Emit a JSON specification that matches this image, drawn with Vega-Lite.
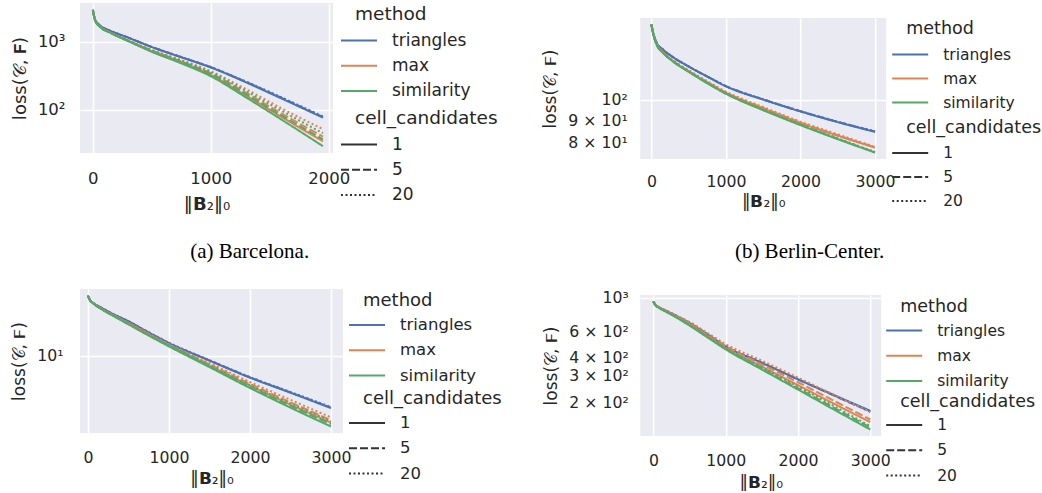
{
  "$schema": "https://vega.github.io/schema/vega-lite/v6.json",
  "background": "white",
  "padding": {"left": 10, "top": 3, "right": 0, "bottom": 0},
  "config": {
    "font": "DejaVu Sans",
    "view": {"fill": "#EAEAF2", "stroke": null},
    "axis": {"domain": false, "ticks": false, "grid": true, "gridColor": "#FFFFFF", "gridWidth": 1.6, "labelFont": "DejaVu Sans", "labelFontSize": 15.7, "labelColor": "#262626", "titleFont": "DejaVu Sans", "titleFontSize": 17, "titleFontWeight": "normal", "titleColor": "#262626", "labelOverlap": false, "labelFlush": false},
    "axisX": {"labelPadding": 17, "titlePadding": 6, "format": "d"},
    "axisY": {"labelPadding": 12, "titlePadding": 8},
    "legend": {"orient": "none", "padding": 0, "titleFont": "DejaVu Sans", "titleFontWeight": "normal", "titleColor": "#262626", "labelFont": "DejaVu Sans", "labelColor": "#262626", "symbolType": "M-2,0H2", "symbolSize": 324, "symbolStrokeWidth": 2, "symbolOffset": -6, "labelOffset": 23},
    "title": {"font": "Liberation Serif", "fontSize": 21, "fontWeight": "normal", "color": "#000000", "orient": "bottom", "anchor": "middle", "frame": "bounds"}
  },
  "datasets": {
    "a": [
      {"n":0,"loss":2951,"method":"triangles","cc":"1"},{"n":20,"loss":2089,"method":"triangles","cc":"1"},{"n":60,"loss":1738,"method":"triangles","cc":"1"},{"n":150,"loss":1445,"method":"triangles","cc":"1"},{"n":300,"loss":1148,"method":"triangles","cc":"1"},{"n":500,"loss":832,"method":"triangles","cc":"1"},{"n":750,"loss":589,"method":"triangles","cc":"1"},{"n":1000,"loss":417,"method":"triangles","cc":"1"},{"n":1300,"loss":251,"method":"triangles","cc":"1"},{"n":1600,"loss":145,"method":"triangles","cc":"1"},{"n":1950,"loss":75.9,"method":"triangles","cc":"1"},
      {"n":0,"loss":2951,"method":"triangles","cc":"5"},{"n":20,"loss":2089,"method":"triangles","cc":"5"},{"n":60,"loss":1738,"method":"triangles","cc":"5"},{"n":150,"loss":1445,"method":"triangles","cc":"5"},{"n":300,"loss":1148,"method":"triangles","cc":"5"},{"n":500,"loss":835,"method":"triangles","cc":"5"},{"n":750,"loss":592,"method":"triangles","cc":"5"},{"n":1000,"loss":420,"method":"triangles","cc":"5"},{"n":1300,"loss":254,"method":"triangles","cc":"5"},{"n":1600,"loss":148,"method":"triangles","cc":"5"},{"n":1950,"loss":77.5,"method":"triangles","cc":"5"},
      {"n":0,"loss":2951,"method":"triangles","cc":"20"},{"n":20,"loss":2089,"method":"triangles","cc":"20"},{"n":60,"loss":1738,"method":"triangles","cc":"20"},{"n":150,"loss":1445,"method":"triangles","cc":"20"},{"n":300,"loss":1148,"method":"triangles","cc":"20"},{"n":500,"loss":838,"method":"triangles","cc":"20"},{"n":750,"loss":596,"method":"triangles","cc":"20"},{"n":1000,"loss":424,"method":"triangles","cc":"20"},{"n":1300,"loss":258,"method":"triangles","cc":"20"},{"n":1600,"loss":151,"method":"triangles","cc":"20"},{"n":1950,"loss":79.0,"method":"triangles","cc":"20"},
      {"n":0,"loss":2951,"method":"max","cc":"1"},{"n":20,"loss":2042,"method":"max","cc":"1"},{"n":60,"loss":1679,"method":"max","cc":"1"},{"n":150,"loss":1365,"method":"max","cc":"1"},{"n":300,"loss":1035,"method":"max","cc":"1"},{"n":500,"loss":724,"method":"max","cc":"1"},{"n":750,"loss":501,"method":"max","cc":"1"},{"n":1000,"loss":324,"method":"max","cc":"1"},{"n":1300,"loss":160,"method":"max","cc":"1"},{"n":1600,"loss":77.5,"method":"max","cc":"1"},{"n":1950,"loss":33.9,"method":"max","cc":"1"},
      {"n":0,"loss":2951,"method":"max","cc":"5"},{"n":20,"loss":2042,"method":"max","cc":"5"},{"n":60,"loss":1679,"method":"max","cc":"5"},{"n":150,"loss":1365,"method":"max","cc":"5"},{"n":300,"loss":1035,"method":"max","cc":"5"},{"n":500,"loss":741,"method":"max","cc":"5"},{"n":750,"loss":513,"method":"max","cc":"5"},{"n":1000,"loss":343,"method":"max","cc":"5"},{"n":1300,"loss":176,"method":"max","cc":"5"},{"n":1600,"loss":87.1,"method":"max","cc":"5"},{"n":1950,"loss":39.8,"method":"max","cc":"5"},
      {"n":0,"loss":2951,"method":"max","cc":"20"},{"n":20,"loss":2042,"method":"max","cc":"20"},{"n":60,"loss":1679,"method":"max","cc":"20"},{"n":150,"loss":1365,"method":"max","cc":"20"},{"n":300,"loss":1047,"method":"max","cc":"20"},{"n":500,"loss":759,"method":"max","cc":"20"},{"n":750,"loss":537,"method":"max","cc":"20"},{"n":1000,"loss":367,"method":"max","cc":"20"},{"n":1300,"loss":199,"method":"max","cc":"20"},{"n":1600,"loss":104,"method":"max","cc":"20"},{"n":1950,"loss":51.3,"method":"max","cc":"20"},
      {"n":0,"loss":2951,"method":"similarity","cc":"1"},{"n":20,"loss":2042,"method":"similarity","cc":"1"},{"n":60,"loss":1660,"method":"similarity","cc":"1"},{"n":150,"loss":1349,"method":"similarity","cc":"1"},{"n":300,"loss":1023,"method":"similarity","cc":"1"},{"n":500,"loss":708,"method":"similarity","cc":"1"},{"n":750,"loss":479,"method":"similarity","cc":"1"},{"n":1000,"loss":309,"method":"similarity","cc":"1"},{"n":1300,"loss":150,"method":"similarity","cc":"1"},{"n":1600,"loss":70.8,"method":"similarity","cc":"1"},{"n":1950,"loss":28.8,"method":"similarity","cc":"1"},
      {"n":0,"loss":2951,"method":"similarity","cc":"5"},{"n":20,"loss":2042,"method":"similarity","cc":"5"},{"n":60,"loss":1660,"method":"similarity","cc":"5"},{"n":150,"loss":1349,"method":"similarity","cc":"5"},{"n":300,"loss":1023,"method":"similarity","cc":"5"},{"n":500,"loss":724,"method":"similarity","cc":"5"},{"n":750,"loss":501,"method":"similarity","cc":"5"},{"n":1000,"loss":331,"method":"similarity","cc":"5"},{"n":1300,"loss":166,"method":"similarity","cc":"5"},{"n":1600,"loss":81.3,"method":"similarity","cc":"5"},{"n":1950,"loss":36.3,"method":"similarity","cc":"5"},
      {"n":0,"loss":2951,"method":"similarity","cc":"20"},{"n":20,"loss":2042,"method":"similarity","cc":"20"},{"n":60,"loss":1660,"method":"similarity","cc":"20"},{"n":150,"loss":1349,"method":"similarity","cc":"20"},{"n":300,"loss":1023,"method":"similarity","cc":"20"},{"n":500,"loss":741,"method":"similarity","cc":"20"},{"n":750,"loss":525,"method":"similarity","cc":"20"},{"n":1000,"loss":355,"method":"similarity","cc":"20"},{"n":1300,"loss":186,"method":"similarity","cc":"20"},{"n":1600,"loss":95.5,"method":"similarity","cc":"20"},{"n":1950,"loss":44.7,"method":"similarity","cc":"20"}
    ],
    "b": [
      {"n":0,"loss":148.3,"method":"triangles","cc":"1"},{"n":25,"loss":141.9,"method":"triangles","cc":"1"},{"n":75,"loss":134.3,"method":"triangles","cc":"1"},{"n":150,"loss":130.3,"method":"triangles","cc":"1"},{"n":300,"loss":124.7,"method":"triangles","cc":"1"},{"n":500,"loss":119.1,"method":"triangles","cc":"1"},{"n":750,"loss":113.0,"method":"triangles","cc":"1"},{"n":1000,"loss":107.4,"method":"triangles","cc":"1"},{"n":1500,"loss":100.2,"method":"triangles","cc":"1"},{"n":2000,"loss":94.2,"method":"triangles","cc":"1"},{"n":2500,"loss":89.1,"method":"triangles","cc":"1"},{"n":3000,"loss":84.7,"method":"triangles","cc":"1"},
      {"n":0,"loss":148.3,"method":"triangles","cc":"5"},{"n":25,"loss":141.9,"method":"triangles","cc":"5"},{"n":75,"loss":134.3,"method":"triangles","cc":"5"},{"n":150,"loss":130.3,"method":"triangles","cc":"5"},{"n":300,"loss":124.7,"method":"triangles","cc":"5"},{"n":500,"loss":119.1,"method":"triangles","cc":"5"},{"n":750,"loss":113.0,"method":"triangles","cc":"5"},{"n":1000,"loss":107.5,"method":"triangles","cc":"5"},{"n":1500,"loss":100.3,"method":"triangles","cc":"5"},{"n":2000,"loss":94.3,"method":"triangles","cc":"5"},{"n":2500,"loss":89.2,"method":"triangles","cc":"5"},{"n":3000,"loss":84.8,"method":"triangles","cc":"5"},
      {"n":0,"loss":148.3,"method":"triangles","cc":"20"},{"n":25,"loss":141.9,"method":"triangles","cc":"20"},{"n":75,"loss":134.3,"method":"triangles","cc":"20"},{"n":150,"loss":130.3,"method":"triangles","cc":"20"},{"n":300,"loss":124.7,"method":"triangles","cc":"20"},{"n":500,"loss":119.2,"method":"triangles","cc":"20"},{"n":750,"loss":113.1,"method":"triangles","cc":"20"},{"n":1000,"loss":107.6,"method":"triangles","cc":"20"},{"n":1500,"loss":100.4,"method":"triangles","cc":"20"},{"n":2000,"loss":94.4,"method":"triangles","cc":"20"},{"n":2500,"loss":89.3,"method":"triangles","cc":"20"},{"n":3000,"loss":84.9,"method":"triangles","cc":"20"},
      {"n":0,"loss":148.3,"method":"max","cc":"1"},{"n":25,"loss":141.3,"method":"max","cc":"1"},{"n":75,"loss":133.4,"method":"max","cc":"1"},{"n":150,"loss":128.5,"method":"max","cc":"1"},{"n":300,"loss":122.2,"method":"max","cc":"1"},{"n":500,"loss":116.1,"method":"max","cc":"1"},{"n":750,"loss":109.6,"method":"max","cc":"1"},{"n":1000,"loss":103.8,"method":"max","cc":"1"},{"n":1500,"loss":95.7,"method":"max","cc":"1"},{"n":2000,"loss":88.7,"method":"max","cc":"1"},{"n":2500,"loss":83.0,"method":"max","cc":"1"},{"n":3000,"loss":78.0,"method":"max","cc":"1"},
      {"n":0,"loss":148.3,"method":"max","cc":"5"},{"n":25,"loss":141.3,"method":"max","cc":"5"},{"n":75,"loss":133.4,"method":"max","cc":"5"},{"n":150,"loss":128.5,"method":"max","cc":"5"},{"n":300,"loss":122.3,"method":"max","cc":"5"},{"n":500,"loss":116.3,"method":"max","cc":"5"},{"n":750,"loss":109.8,"method":"max","cc":"5"},{"n":1000,"loss":104.0,"method":"max","cc":"5"},{"n":1500,"loss":95.9,"method":"max","cc":"5"},{"n":2000,"loss":88.9,"method":"max","cc":"5"},{"n":2500,"loss":83.2,"method":"max","cc":"5"},{"n":3000,"loss":78.1,"method":"max","cc":"5"},
      {"n":0,"loss":148.3,"method":"max","cc":"20"},{"n":25,"loss":141.4,"method":"max","cc":"20"},{"n":75,"loss":133.6,"method":"max","cc":"20"},{"n":150,"loss":128.8,"method":"max","cc":"20"},{"n":300,"loss":122.7,"method":"max","cc":"20"},{"n":500,"loss":116.9,"method":"max","cc":"20"},{"n":750,"loss":110.3,"method":"max","cc":"20"},{"n":1000,"loss":104.5,"method":"max","cc":"20"},{"n":1500,"loss":96.4,"method":"max","cc":"20"},{"n":2000,"loss":89.3,"method":"max","cc":"20"},{"n":2500,"loss":83.6,"method":"max","cc":"20"},{"n":3000,"loss":78.3,"method":"max","cc":"20"},
      {"n":0,"loss":148.3,"method":"similarity","cc":"1"},{"n":25,"loss":141.3,"method":"similarity","cc":"1"},{"n":75,"loss":133.0,"method":"similarity","cc":"1"},{"n":150,"loss":128.2,"method":"similarity","cc":"1"},{"n":300,"loss":121.9,"method":"similarity","cc":"1"},{"n":500,"loss":115.9,"method":"similarity","cc":"1"},{"n":750,"loss":109.1,"method":"similarity","cc":"1"},{"n":1000,"loss":103.3,"method":"similarity","cc":"1"},{"n":1500,"loss":94.8,"method":"similarity","cc":"1"},{"n":2000,"loss":87.7,"method":"similarity","cc":"1"},{"n":2500,"loss":81.5,"method":"similarity","cc":"1"},{"n":3000,"loss":76.0,"method":"similarity","cc":"1"},
      {"n":0,"loss":148.3,"method":"similarity","cc":"5"},{"n":25,"loss":141.3,"method":"similarity","cc":"5"},{"n":75,"loss":133.0,"method":"similarity","cc":"5"},{"n":150,"loss":128.2,"method":"similarity","cc":"5"},{"n":300,"loss":121.9,"method":"similarity","cc":"5"},{"n":500,"loss":115.9,"method":"similarity","cc":"5"},{"n":750,"loss":109.2,"method":"similarity","cc":"5"},{"n":1000,"loss":103.4,"method":"similarity","cc":"5"},{"n":1500,"loss":95.0,"method":"similarity","cc":"5"},{"n":2000,"loss":87.9,"method":"similarity","cc":"5"},{"n":2500,"loss":81.7,"method":"similarity","cc":"5"},{"n":3000,"loss":76.1,"method":"similarity","cc":"5"},
      {"n":0,"loss":148.3,"method":"similarity","cc":"20"},{"n":25,"loss":141.3,"method":"similarity","cc":"20"},{"n":75,"loss":133.1,"method":"similarity","cc":"20"},{"n":150,"loss":128.3,"method":"similarity","cc":"20"},{"n":300,"loss":122.0,"method":"similarity","cc":"20"},{"n":500,"loss":116.0,"method":"similarity","cc":"20"},{"n":750,"loss":109.3,"method":"similarity","cc":"20"},{"n":1000,"loss":103.6,"method":"similarity","cc":"20"},{"n":1500,"loss":95.2,"method":"similarity","cc":"20"},{"n":2000,"loss":88.1,"method":"similarity","cc":"20"},{"n":2500,"loss":81.9,"method":"similarity","cc":"20"},{"n":3000,"loss":76.3,"method":"similarity","cc":"20"}
    ],
    "c": [
      {"n":0,"loss":32.1,"method":"triangles","cc":"1"},{"n":25,"loss":29.5,"method":"triangles","cc":"1"},{"n":75,"loss":27.5,"method":"triangles","cc":"1"},{"n":150,"loss":25.7,"method":"triangles","cc":"1"},{"n":300,"loss":22.6,"method":"triangles","cc":"1"},{"n":500,"loss":19.5,"method":"triangles","cc":"1"},{"n":750,"loss":15.7,"method":"triangles","cc":"1"},{"n":1000,"loss":12.8,"method":"triangles","cc":"1"},{"n":1500,"loss":9.12,"method":"triangles","cc":"1"},{"n":2000,"loss":6.56,"method":"triangles","cc":"1"},{"n":2500,"loss":4.90,"method":"triangles","cc":"1"},{"n":3000,"loss":3.64,"method":"triangles","cc":"1"},
      {"n":0,"loss":32.1,"method":"triangles","cc":"5"},{"n":25,"loss":29.5,"method":"triangles","cc":"5"},{"n":75,"loss":27.5,"method":"triangles","cc":"5"},{"n":150,"loss":25.7,"method":"triangles","cc":"5"},{"n":300,"loss":22.6,"method":"triangles","cc":"5"},{"n":500,"loss":19.5,"method":"triangles","cc":"5"},{"n":750,"loss":15.7,"method":"triangles","cc":"5"},{"n":1000,"loss":12.8,"method":"triangles","cc":"5"},{"n":1500,"loss":9.15,"method":"triangles","cc":"5"},{"n":2000,"loss":6.60,"method":"triangles","cc":"5"},{"n":2500,"loss":4.93,"method":"triangles","cc":"5"},{"n":3000,"loss":3.67,"method":"triangles","cc":"5"},
      {"n":0,"loss":32.1,"method":"triangles","cc":"20"},{"n":25,"loss":29.5,"method":"triangles","cc":"20"},{"n":75,"loss":27.6,"method":"triangles","cc":"20"},{"n":150,"loss":25.8,"method":"triangles","cc":"20"},{"n":300,"loss":22.7,"method":"triangles","cc":"20"},{"n":500,"loss":19.6,"method":"triangles","cc":"20"},{"n":750,"loss":15.8,"method":"triangles","cc":"20"},{"n":1000,"loss":12.9,"method":"triangles","cc":"20"},{"n":1500,"loss":9.20,"method":"triangles","cc":"20"},{"n":2000,"loss":6.64,"method":"triangles","cc":"20"},{"n":2500,"loss":4.97,"method":"triangles","cc":"20"},{"n":3000,"loss":3.72,"method":"triangles","cc":"20"},
      {"n":0,"loss":32.1,"method":"max","cc":"1"},{"n":25,"loss":29.4,"method":"max","cc":"1"},{"n":75,"loss":27.4,"method":"max","cc":"1"},{"n":150,"loss":25.3,"method":"max","cc":"1"},{"n":300,"loss":22.1,"method":"max","cc":"1"},{"n":500,"loss":18.7,"method":"max","cc":"1"},{"n":750,"loss":15.1,"method":"max","cc":"1"},{"n":1000,"loss":12.3,"method":"max","cc":"1"},{"n":1500,"loss":8.28,"method":"max","cc":"1"},{"n":2000,"loss":5.62,"method":"max","cc":"1"},{"n":2500,"loss":3.89,"method":"max","cc":"1"},{"n":3000,"loss":2.75,"method":"max","cc":"1"},
      {"n":0,"loss":32.1,"method":"max","cc":"5"},{"n":25,"loss":29.4,"method":"max","cc":"5"},{"n":75,"loss":27.4,"method":"max","cc":"5"},{"n":150,"loss":25.3,"method":"max","cc":"5"},{"n":300,"loss":22.2,"method":"max","cc":"5"},{"n":500,"loss":18.8,"method":"max","cc":"5"},{"n":750,"loss":15.2,"method":"max","cc":"5"},{"n":1000,"loss":12.4,"method":"max","cc":"5"},{"n":1500,"loss":8.51,"method":"max","cc":"5"},{"n":2000,"loss":5.82,"method":"max","cc":"5"},{"n":2500,"loss":4.07,"method":"max","cc":"5"},{"n":3000,"loss":2.88,"method":"max","cc":"5"},
      {"n":0,"loss":32.1,"method":"max","cc":"20"},{"n":25,"loss":29.5,"method":"max","cc":"20"},{"n":75,"loss":27.5,"method":"max","cc":"20"},{"n":150,"loss":25.4,"method":"max","cc":"20"},{"n":300,"loss":22.3,"method":"max","cc":"20"},{"n":500,"loss":19.0,"method":"max","cc":"20"},{"n":750,"loss":15.4,"method":"max","cc":"20"},{"n":1000,"loss":12.6,"method":"max","cc":"20"},{"n":1500,"loss":8.71,"method":"max","cc":"20"},{"n":2000,"loss":6.03,"method":"max","cc":"20"},{"n":2500,"loss":4.27,"method":"max","cc":"20"},{"n":3000,"loss":3.04,"method":"max","cc":"20"},
      {"n":0,"loss":32.1,"method":"similarity","cc":"1"},{"n":25,"loss":29.4,"method":"similarity","cc":"1"},{"n":75,"loss":27.2,"method":"similarity","cc":"1"},{"n":150,"loss":25.1,"method":"similarity","cc":"1"},{"n":300,"loss":21.9,"method":"similarity","cc":"1"},{"n":500,"loss":18.4,"method":"similarity","cc":"1"},{"n":750,"loss":14.8,"method":"similarity","cc":"1"},{"n":1000,"loss":12.0,"method":"similarity","cc":"1"},{"n":1500,"loss":8.04,"method":"similarity","cc":"1"},{"n":2000,"loss":5.37,"method":"similarity","cc":"1"},{"n":2500,"loss":3.67,"method":"similarity","cc":"1"},{"n":3000,"loss":2.55,"method":"similarity","cc":"1"},
      {"n":0,"loss":32.1,"method":"similarity","cc":"5"},{"n":25,"loss":29.4,"method":"similarity","cc":"5"},{"n":75,"loss":27.2,"method":"similarity","cc":"5"},{"n":150,"loss":25.1,"method":"similarity","cc":"5"},{"n":300,"loss":21.9,"method":"similarity","cc":"5"},{"n":500,"loss":18.5,"method":"similarity","cc":"5"},{"n":750,"loss":14.9,"method":"similarity","cc":"5"},{"n":1000,"loss":12.2,"method":"similarity","cc":"5"},{"n":1500,"loss":8.17,"method":"similarity","cc":"5"},{"n":2000,"loss":5.52,"method":"similarity","cc":"5"},{"n":2500,"loss":3.80,"method":"similarity","cc":"5"},{"n":3000,"loss":2.67,"method":"similarity","cc":"5"},
      {"n":0,"loss":32.1,"method":"similarity","cc":"20"},{"n":25,"loss":29.4,"method":"similarity","cc":"20"},{"n":75,"loss":27.3,"method":"similarity","cc":"20"},{"n":150,"loss":25.2,"method":"similarity","cc":"20"},{"n":300,"loss":22.0,"method":"similarity","cc":"20"},{"n":500,"loss":18.6,"method":"similarity","cc":"20"},{"n":750,"loss":15.0,"method":"similarity","cc":"20"},{"n":1000,"loss":12.3,"method":"similarity","cc":"20"},{"n":1500,"loss":8.32,"method":"similarity","cc":"20"},{"n":2000,"loss":5.69,"method":"similarity","cc":"20"},{"n":2500,"loss":3.98,"method":"similarity","cc":"20"},{"n":3000,"loss":2.82,"method":"similarity","cc":"20"}
    ],
    "d": [
      {"n":0,"loss":948,"method":"triangles","cc":"1"},{"n":25,"loss":902,"method":"triangles","cc":"1"},{"n":75,"loss":867,"method":"triangles","cc":"1"},{"n":150,"loss":832,"method":"triangles","cc":"1"},{"n":300,"loss":767,"method":"triangles","cc":"1"},{"n":500,"loss":679,"method":"triangles","cc":"1"},{"n":750,"loss":569,"method":"triangles","cc":"1"},{"n":1000,"loss":473,"method":"triangles","cc":"1"},{"n":1500,"loss":367,"method":"triangles","cc":"1"},{"n":2000,"loss":285,"method":"triangles","cc":"1"},{"n":2500,"loss":223,"method":"triangles","cc":"1"},{"n":3000,"loss":175,"method":"triangles","cc":"1"},
      {"n":0,"loss":948,"method":"triangles","cc":"5"},{"n":25,"loss":902,"method":"triangles","cc":"5"},{"n":75,"loss":867,"method":"triangles","cc":"5"},{"n":150,"loss":832,"method":"triangles","cc":"5"},{"n":300,"loss":767,"method":"triangles","cc":"5"},{"n":500,"loss":680,"method":"triangles","cc":"5"},{"n":750,"loss":570,"method":"triangles","cc":"5"},{"n":1000,"loss":474,"method":"triangles","cc":"5"},{"n":1500,"loss":368,"method":"triangles","cc":"5"},{"n":2000,"loss":284,"method":"triangles","cc":"5"},{"n":2500,"loss":221,"method":"triangles","cc":"5"},{"n":3000,"loss":173,"method":"triangles","cc":"5"},
      {"n":0,"loss":948,"method":"triangles","cc":"20"},{"n":25,"loss":902,"method":"triangles","cc":"20"},{"n":75,"loss":868,"method":"triangles","cc":"20"},{"n":150,"loss":833,"method":"triangles","cc":"20"},{"n":300,"loss":769,"method":"triangles","cc":"20"},{"n":500,"loss":682,"method":"triangles","cc":"20"},{"n":750,"loss":573,"method":"triangles","cc":"20"},{"n":1000,"loss":477,"method":"triangles","cc":"20"},{"n":1500,"loss":370,"method":"triangles","cc":"20"},{"n":2000,"loss":286,"method":"triangles","cc":"20"},{"n":2500,"loss":222,"method":"triangles","cc":"20"},{"n":3000,"loss":172,"method":"triangles","cc":"20"},
      {"n":0,"loss":948,"method":"max","cc":"1"},{"n":25,"loss":902,"method":"max","cc":"1"},{"n":75,"loss":865,"method":"max","cc":"1"},{"n":150,"loss":828,"method":"max","cc":"1"},{"n":300,"loss":759,"method":"max","cc":"1"},{"n":500,"loss":668,"method":"max","cc":"1"},{"n":750,"loss":556,"method":"max","cc":"1"},{"n":1000,"loss":462,"method":"max","cc":"1"},{"n":1500,"loss":347,"method":"max","cc":"1"},{"n":2000,"loss":260,"method":"max","cc":"1"},{"n":2500,"loss":195,"method":"max","cc":"1"},{"n":3000,"loss":147,"method":"max","cc":"1"},
      {"n":0,"loss":948,"method":"max","cc":"5"},{"n":25,"loss":902,"method":"max","cc":"5"},{"n":75,"loss":866,"method":"max","cc":"5"},{"n":150,"loss":830,"method":"max","cc":"5"},{"n":300,"loss":762,"method":"max","cc":"5"},{"n":500,"loss":673,"method":"max","cc":"5"},{"n":750,"loss":562,"method":"max","cc":"5"},{"n":1000,"loss":473,"method":"max","cc":"5"},{"n":1500,"loss":359,"method":"max","cc":"5"},{"n":2000,"loss":272,"method":"max","cc":"5"},{"n":2500,"loss":204,"method":"max","cc":"5"},{"n":3000,"loss":153,"method":"max","cc":"5"},
      {"n":0,"loss":948,"method":"max","cc":"20"},{"n":25,"loss":903,"method":"max","cc":"20"},{"n":75,"loss":868,"method":"max","cc":"20"},{"n":150,"loss":834,"method":"max","cc":"20"},{"n":300,"loss":768,"method":"max","cc":"20"},{"n":500,"loss":692,"method":"max","cc":"20"},{"n":750,"loss":582,"method":"max","cc":"20"},{"n":1000,"loss":490,"method":"max","cc":"20"},{"n":1500,"loss":380,"method":"max","cc":"20"},{"n":2000,"loss":292,"method":"max","cc":"20"},{"n":2500,"loss":224,"method":"max","cc":"20"},{"n":3000,"loss":172,"method":"max","cc":"20"},
      {"n":0,"loss":948,"method":"similarity","cc":"1"},{"n":25,"loss":897,"method":"similarity","cc":"1"},{"n":75,"loss":859,"method":"similarity","cc":"1"},{"n":150,"loss":820,"method":"similarity","cc":"1"},{"n":300,"loss":748,"method":"similarity","cc":"1"},{"n":500,"loss":653,"method":"similarity","cc":"1"},{"n":750,"loss":543,"method":"similarity","cc":"1"},{"n":1000,"loss":452,"method":"similarity","cc":"1"},{"n":1500,"loss":331,"method":"similarity","cc":"1"},{"n":2000,"loss":243,"method":"similarity","cc":"1"},{"n":2500,"loss":178,"method":"similarity","cc":"1"},{"n":3000,"loss":131,"method":"similarity","cc":"1"},
      {"n":0,"loss":948,"method":"similarity","cc":"5"},{"n":25,"loss":897,"method":"similarity","cc":"5"},{"n":75,"loss":859,"method":"similarity","cc":"5"},{"n":150,"loss":821,"method":"similarity","cc":"5"},{"n":300,"loss":750,"method":"similarity","cc":"5"},{"n":500,"loss":656,"method":"similarity","cc":"5"},{"n":750,"loss":547,"method":"similarity","cc":"5"},{"n":1000,"loss":457,"method":"similarity","cc":"5"},{"n":1500,"loss":337,"method":"similarity","cc":"5"},{"n":2000,"loss":248,"method":"similarity","cc":"5"},{"n":2500,"loss":183,"method":"similarity","cc":"5"},{"n":3000,"loss":135,"method":"similarity","cc":"5"},
      {"n":0,"loss":948,"method":"similarity","cc":"20"},{"n":25,"loss":898,"method":"similarity","cc":"20"},{"n":75,"loss":860,"method":"similarity","cc":"20"},{"n":150,"loss":822,"method":"similarity","cc":"20"},{"n":300,"loss":752,"method":"similarity","cc":"20"},{"n":500,"loss":660,"method":"similarity","cc":"20"},{"n":750,"loss":551,"method":"similarity","cc":"20"},{"n":1000,"loss":462,"method":"similarity","cc":"20"},{"n":1500,"loss":343,"method":"similarity","cc":"20"},{"n":2000,"loss":254,"method":"similarity","cc":"20"},{"n":2500,"loss":188,"method":"similarity","cc":"20"},{"n":3000,"loss":138,"method":"similarity","cc":"20"}
    ]
  },
  "resolve": {"scale": {"color": "independent", "strokeDash": "independent"}, "legend": {"color": "independent", "strokeDash": "independent"}},
  "spacing": 39.2,
  "hconcat": [
    {
      "resolve": {"scale": {"color": "independent", "strokeDash": "independent"}, "legend": {"color": "independent", "strokeDash": "independent"}},
      "columns": 1,
      "align": "none",
      "spacing": 27,
      "concat": [
        {
          "width": 253, "height": 150,
          "title": {"text": "(a) Barcelona.", "offset": 27, "dx": -5},
          "data": {"name": "a"},
          "mark": {"type": "line", "strokeWidth": 2, "clip": true, "interpolate": "monotone"},
          "encoding": {
            "x": {"field": "n", "type": "quantitative", "scale": {"domain": [-109, 2035], "nice": false, "zero": false}, "axis": {"values": [0, 1000, 2000], "title": "‖𝗕₂‖₀", "labelPadding": 17, "titlePadding": 9, "labelFontSize": 16.5, "titleFontSize": 18}},
            "y": {"field": "loss", "type": "quantitative", "scale": {"type": "log", "domain": [22.85, 3721], "nice": false}, "axis": {"values": [100, 1000], "labelExpr": "datum.value == 1000 ? '10³' : '10²'", "title": "loss(𝒞, 𝗙)", "labelPadding": 15, "labelFontSize": 16.5, "titleFontSize": 18}},
            "color": {"field": "method", "type": "nominal", "scale": {"domain": ["triangles", "max", "similarity"], "range": ["#4C72B0", "#DD8452", "#55A868"]}, "legend": {"title": "method", "symbolType": "M-2,0H2", "legendX": 275, "legendY": 2, "titleFontSize": 18.5, "labelFontSize": 17, "titlePadding": 7, "rowPadding": 7.3}},
            "strokeDash": {"field": "cc", "type": "nominal", "scale": {"domain": ["1", "5", "20"], "range": [[1, 0], [8, 3], [2, 2.5]]}, "legend": {"title": "cell_candidates", "symbolType": "M-2,0H2", "symbolStrokeColor": "#333333", "legendX": 275, "legendY": 106, "titleFontSize": 18.5, "labelFontSize": 17, "titlePadding": 7, "rowPadding": 7.3}}
          }
        },
        {
          "width": 263, "height": 144,
          "data": {"name": "c"},
          "mark": {"type": "line", "strokeWidth": 2, "clip": true, "interpolate": "monotone"},
          "encoding": {
            "x": {"field": "n", "type": "quantitative", "scale": {"domain": [-97.5, 3149], "nice": false, "zero": false}, "axis": {"values": [0, 1000, 2000, 3000], "title": "‖𝗕₂‖₀", "labelPadding": 17, "titlePadding": 6}},
            "y": {"field": "loss", "type": "quantitative", "scale": {"type": "log", "domain": [2.247, 36.44], "nice": false}, "axis": {"values": [10], "labelExpr": "'10¹'", "title": "loss(𝒞, 𝗙)", "labelPadding": 17}},
            "color": {"field": "method", "type": "nominal", "scale": {"domain": ["triangles", "max", "similarity"], "range": ["#4C72B0", "#DD8452", "#55A868"]}, "legend": {"title": "method", "symbolType": "M-2,0H2", "legendX": 283, "legendY": 3, "titleFontSize": 18, "labelFontSize": 16.5, "titlePadding": 5, "rowPadding": 6.3}},
            "strokeDash": {"field": "cc", "type": "nominal", "scale": {"domain": ["1", "5", "20"], "range": [[1, 0], [8, 3], [2, 2.5]]}, "legend": {"title": "cell_candidates", "symbolType": "M-2,0H2", "symbolStrokeColor": "#333333", "legendX": 283, "legendY": 101, "titleFontSize": 18, "labelFontSize": 16.5, "titlePadding": 5, "rowPadding": 6.3}}
          }
        }
      ]
    },
    {
      "resolve": {"scale": {"color": "independent", "strokeDash": "independent"}, "legend": {"color": "independent", "strokeDash": "independent"}},
      "columns": 1,
      "align": "none",
      "spacing": 27,
      "concat": [
        {
          "resolve": {"scale": {"color": "independent", "strokeDash": "independent"}, "legend": {"color": "independent", "strokeDash": "independent"}},
          "spacing": 0,
          "vconcat": [
            {
              "width": 1, "height": 15,
              "data": {"values": []},
              "mark": "point",
              "view": {"fill": null, "stroke": null}
            },
            {
              "width": 246, "height": 141,
              "title": {"text": "(b) Berlin-Center.", "offset": 31, "dx": 18},
              "data": {"name": "b"},
              "mark": {"type": "line", "strokeWidth": 2, "clip": true, "interpolate": "monotone"},
              "encoding": {
                "x": {"field": "n", "type": "quantitative", "scale": {"domain": [-150, 3150], "nice": false, "zero": false}, "axis": {"values": [0, 1000, 2000, 3000], "title": "‖𝗕₂‖₀", "labelPadding": 15, "titlePadding": 5}},
                "y": {"field": "loss", "type": "quantitative", "scale": {"type": "log", "domain": [73.5, 153.4], "nice": false}, "axis": {"values": [80, 90, 100], "labelExpr": "datum.value == 100 ? '10²' : datum.value == 90 ? '9 × 10¹' : '8 × 10¹'", "gridOpacity": {"condition": {"test": "datum.value == 100", "value": 1}, "value": 0}, "title": "loss(𝒞, 𝗙)", "labelPadding": 13}},
                "color": {"field": "method", "type": "nominal", "scale": {"domain": ["triangles", "max", "similarity"], "range": ["#4C72B0", "#DD8452", "#55A868"]}, "legend": {"title": "method", "symbolType": "M-2,0H2", "legendX": 266, "legendY": 2, "titleFontSize": 17.5, "labelFontSize": 15.5, "titlePadding": 7, "rowPadding": 5}},
                "strokeDash": {"field": "cc", "type": "nominal", "scale": {"domain": ["1", "5", "20"], "range": [[1, 0], [8, 3], [2, 2.5]]}, "legend": {"title": "cell_candidates", "symbolType": "M-2,0H2", "symbolStrokeColor": "#333333", "legendX": 266, "legendY": 100.5, "titleFontSize": 17.5, "labelFontSize": 15.5, "titlePadding": 7, "rowPadding": 5}}
              }
            }
          ]
        },
        {
          "width": 241, "height": 141,
          "data": {"name": "d"},
          "mark": {"type": "line", "strokeWidth": 2, "clip": true, "interpolate": "monotone"},
          "encoding": {
            "x": {"field": "n", "type": "quantitative", "scale": {"domain": [-182.6, 3150.7], "nice": false, "zero": false}, "axis": {"values": [0, 1000, 2000, 3000], "title": "‖𝗕₂‖₀", "labelPadding": 17, "titlePadding": 7}},
            "y": {"field": "loss", "type": "quantitative", "scale": {"type": "log", "domain": [118.6, 1047], "nice": false}, "axis": {"values": [200, 300, 400, 600, 1000], "labelExpr": "datum.value == 1000 ? '10³' : (datum.value / 100) + ' × 10²'", "gridOpacity": {"condition": {"test": "datum.value == 1000", "value": 1}, "value": 0}, "title": "loss(𝒞, 𝗙)", "labelPadding": 12}},
            "color": {"field": "method", "type": "nominal", "scale": {"domain": ["triangles", "max", "similarity"], "range": ["#4C72B0", "#DD8452", "#55A868"]}, "legend": {"title": "method", "symbolType": "M-2,0H2", "legendX": 260, "legendY": 3, "titleFontSize": 17.5, "labelFontSize": 15.5, "titlePadding": 5, "rowPadding": 6.3}},
            "strokeDash": {"field": "cc", "type": "nominal", "scale": {"domain": ["1", "5", "20"], "range": [[1, 0], [8, 3], [2, 2.5]]}, "legend": {"title": "cell_candidates", "symbolType": "M-2,0H2", "symbolStrokeColor": "#333333", "legendX": 260, "legendY": 97.5, "titleFontSize": 17.5, "labelFontSize": 15.5, "titlePadding": 5, "rowPadding": 6.3}}
          }
        }
      ]
    }
  ]
}
